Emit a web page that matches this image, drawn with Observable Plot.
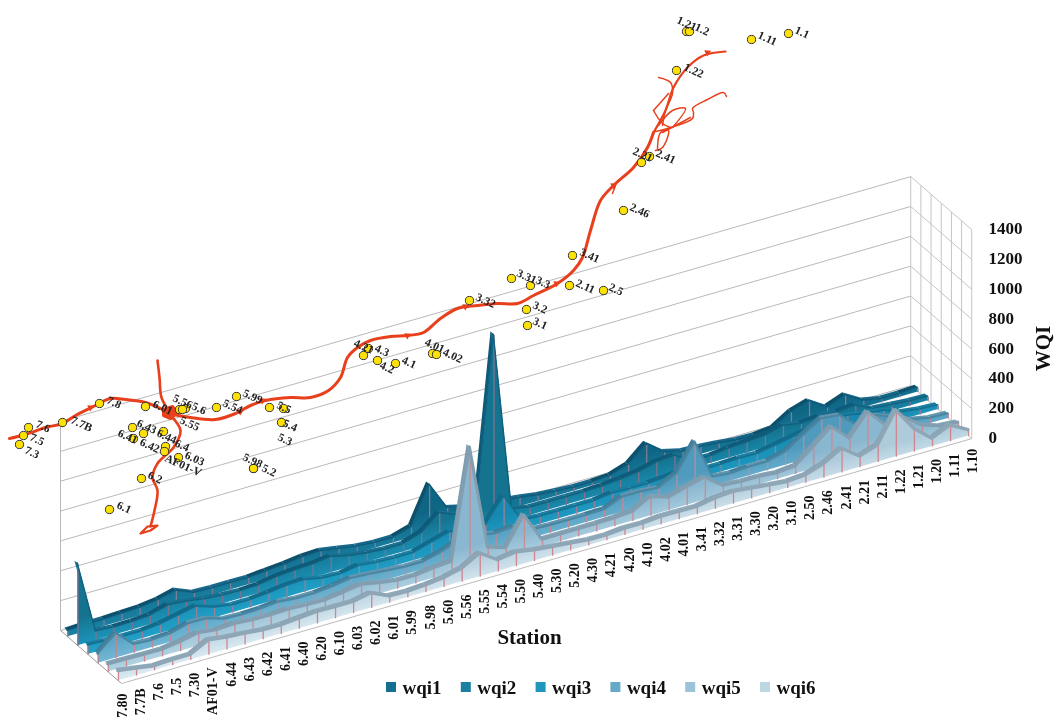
<!DOCTYPE html>
<html><head><meta charset="utf-8">
<style>html,body{margin:0;padding:0;background:#fff}svg{display:block;filter:blur(.45px)}</style>
<script src="https://cdn.jsdelivr.net/npm/d3@7"></script>
<script src="https://cdn.jsdelivr.net/npm/@observablehq/plot@0.6"></script>
</head><body><script>
const stations=["7.80","7.7B","7.6","7.5","7.30","AF01-V","6.44","6.43","6.42","6.41","6.40","6.20","6.10","6.03","6.02","6.01","5.99","5.98","5.60","5.56","5.55","5.54","5.50","5.40","5.30","5.20","4.30","4.21","4.20","4.10","4.02","4.01","3.41","3.32","3.31","3.30","3.20","3.10","2.50","2.46","2.41","2.21","2.11","1.22","1.21","1.20","1.11","1.10"];
const wqi1=[40,45,45,50,55,70,100,50,45,45,45,55,65,80,85,65,45,35,35,70,322,130,100,80,70,58,40,30,22,22,30,70,176,85,55,50,40,25,22,33,109,147,71,116,47,22,22,28];
const wqi2=[550,60,50,52,60,95,85,65,55,50,55,75,85,90,105,75,60,50,50,90,190,140,110,1280,75,52,50,50,50,55,65,80,110,120,50,48,62,70,80,110,90,100,98,107,50,40,30,28];
const wqi3=[60,55,50,50,60,85,110,70,50,50,60,75,80,55,50,70,55,50,50,85,120,110,100,256,60,50,50,50,50,65,62,60,70,80,48,48,54,51,71,94,114,136,134,110,98,51,35,28];
const wqi4=[60,165,55,48,55,89,88,50,45,48,60,48,48,60,78,70,60,50,50,80,130,120,100,110,55,50,48,48,50,100,100,90,150,330,60,48,56,56,87,165,240,228,127,158,111,60,35,30];
const wqi5=[50,48,45,43,60,85,70,76,67,65,68,62,60,75,95,70,52,50,65,75,806,100,60,246,48,48,48,48,52,60,125,85,120,150,60,50,50,40,50,145,245,131,275,150,170,80,40,30];
const wqi6=[65,46,27,33,33,96,80,71,58,57,67,77,75,74,97,42,37,45,58,87,155,74,92,71,58,46,33,31,42,40,51,49,47,69,78,65,52,40,49,89,158,71,111,310,152,51,105,38];
const seriesNames=["wqi1","wqi2","wqi3","wqi4","wqi5","wqi6"];
const seriesValues=[wqi1,wqi2,wqi3,wqi4,wqi5,wqi6];
const legendColors=["#15708f","#1a7fa3","#1f97bd","#65a9c8","#9cc3da","#bcd6e2"];
const faceFoot=["#1a82a4","#1c94ba","#22a2c9","#72b8d5","#b3d3e2","#dcebf2"];
const faceTop=["#0f6584","#14738f","#1789b0","#4f9abd","#8ab7d0","#aecbdb"];
const ridgeRise=["#0c506c","#0f5a79","#126a8a","#3f7f9c","#7d9db0","#8ba5b6"];
const ridgeFall=["#17688a","#186f90","#1a7fa2","#6596b0","#86a4b7","#90abbb"];
const ridgeLine=["#0e5a78","#10607f","#136f90","#4a86a2","#829eb0","#8ea6b5"];
const ridgeWidth=[1.4,1.4,1.6,2.2,3,3.4];
const dropColors=["#7d7f96","#80728f","#9a7f98","#c08a98","#c98a94","#cf8590"];
const wqiTicks=[0,200,400,600,800,1000,1200,1400];
const depthLines=[0,1,2,3,4,5,6];

// map overlay: station dots and their labels, in map units
const mapNames=["7.6","7.5","7.3","7.7B","7.8","6.01","5.56","5.6","5.55","5.54","5.99","5.5","5.4","5.3","6.43","6.44","6.4","6.03","AF01-V","6.41","6.42","6.2","6.1","5.98","5.2","4.21","4.3","4.2","4.1","4.01","4.02","3.32","3.31","3.3","3.2","3.1","2.11","2.5","3.41","1.21","1.2","1.11","1.1","1.22","2.21","2.41","2.46"];
const mapEast=[28,23,19,62,99,145,179,185,182,216,236,283,281,269,132,163,165,178,164,133,143,141,109,253,253,363,368,377,395,432,436,469,511,530,526,527,569,603,572,686,689,751,788,676,641,649,623];
const mapNorth=[427,435,444,422,403,406,409,408,409,407,396,408,422,407,427,431,446,457,451,438,433,478,509,468,468,355,348,360,363,353,354,300,278,285,309,325,285,290,255,31,31,39,33,70,162,156,210];
const labelEast=[36,30,25,71,107,153,173,192,180,223,243,277,283,278,137,157,175,185,165,118,140,148,117,243,262,354,375,380,402,425,443,476,517,536,533,533,576,609,580,677,695,758,795,684,633,656,630];
const labelNorth=[419,432,445,415,395,399,393,401,415,398,388,400,418,432,418,428,438,450,453,428,437,470,500,452,463,338,343,360,355,337,347,292,268,275,300,316,278,282,247,15,22,30,25,62,146,148,202];
const riverMain=[[9,438],[25,434],[45,427],[62,423],[75,415],[95,405],[110,398],[125,399],[145,402],[160,408],[170,413],[190,417],[215,419],[235,413],[250,405],[265,400],[290,397],[310,397],[328,390],[340,377],[347,357],[357,347],[370,340],[390,336],[407,335],[423,332],[440,318],[457,308],[477,305],[497,303],[517,303],[533,295],[557,283],[573,270],[582,257],[590,230],[600,200],[613,185],[633,167],[647,147],[653,132]];
const riverUpper=[[653,132],[665,110],[673,87],[687,67],[703,55],[725,51]];
const riverNorth=[[157,360],[159,377],[161,397],[170,413]];
const riverSouth=[[170,415],[180,430],[173,447],[157,463],[152,477],[157,490],[154,510],[150,526]];
const riverDelta=[[140,533],[147,526],[157,525],[150,530],[140,533]];
const riverJunction=[[163,409],[172,406],[177,412],[170,418],[163,415],[163,409]];
const creeks=[
 [[655,131],[670,127],[692,118],[693,112],[692,108],[707,99],[723,92],[726,96]],
 [[658,125],[672,110],[685,108],[672,127]],
 [[662,132],[690,117]],
 [[658,77],[670,82],[672,93],[665,110],[662,125]],
 [[653,110],[668,93]],
 [[653,110],[662,123],[670,127]],
 [[657,148],[660,132],[668,130],[662,147],[655,150]],
 [[612,193],[615,185]]
];
const riverArrows=[[62,423],[90,407],[240,411],[262,400],[407,335],[465,306],[556,283],[613,185],[707,52]];

// oblique projection of the 3-D axes
const sx=i=>60+18.09*i, sy=i=>630-5.21*i;
const px=(i,d)=>sx(i)+61*d;
const py=(i,d,v)=>sy(i)+53*d-0.1493*v;
const bandDepth=.05;
const frontOf=s=>.12+.166*s;

const serif="Liberation Serif";
const marks=[];
// walls
marks.push(Plot.link(wqiTicks,{x1:sx(0),y1:v=>py(0,0,v),x2:sx(47),y2:v=>py(47,0,v),stroke:"#b9b9b9",strokeWidth:1}));
marks.push(Plot.link(wqiTicks,{x1:sx(47),y1:v=>py(47,0,v),x2:px(47,1),y2:v=>py(47,1,v),stroke:"#c4c4c4",strokeWidth:1}));
marks.push(Plot.link(depthLines,{x1:k=>px(47,k/6),y1:k=>py(47,k/6,1400),x2:k=>px(47,k/6),y2:k=>py(47,k/6,0),stroke:"#c4c4c4",strokeWidth:1}));
marks.push(Plot.link([0],{x1:sx(0),y1:py(0,0,1400),x2:sx(0),y2:py(0,0,0),stroke:"#b9b9b9",strokeWidth:1}));
marks.push(Plot.link([0],{x1:sx(0),y1:py(0,0,0),x2:px(0,1),y2:py(0,1,0),stroke:"#9a9a9a",strokeWidth:1}));
// series ribbons, back to front
seriesValues.forEach((vals,s)=>{
  const front=frontOf(s), back=front-bandDepth;
  const segs=[];
  for(let i=0;i<47;i++){
    const color=vals[i+1]>vals[i]?ridgeRise[s]:ridgeFall[s];
    segs.push({seg:i,i,v:vals[i],color});
    segs.push({seg:i,i:i+1,v:vals[i+1],color});
  }
  marks.push(Plot.area(segs,{z:"seg",x1:r=>px(r.i,back),y1:r=>py(r.i,back,r.v),x2:r=>px(r.i,front),y2:r=>py(r.i,front,r.v),fill:"color",curve:"linear"}));
  const idx=vals.map((v,i)=>i);
  marks.push(Plot.area(idx,{x1:i=>px(i,front),y1:i=>py(i,front,vals[i]),x2:i=>px(i,front),y2:i=>py(i,front,0),fill:`url(#face${s})`,curve:"linear"}));
  marks.push(Plot.link(idx,{x1:i=>px(i,front),y1:i=>py(i,front,vals[i]),x2:i=>px(i,front),y2:i=>py(i,front,0),stroke:dropColors[s],strokeWidth:1.3}));
  marks.push(Plot.line(idx,{x:i=>px(i,front-.012),y:i=>py(i,front-.012,vals[i]),stroke:ridgeLine[s],strokeWidth:ridgeWidth[s],curve:"linear",strokeLinejoin:"round"}));
});
// front rim
marks.push(Plot.link([0],{x1:px(0,1),y1:py(0,1,0),x2:px(47,1),y2:py(47,1,0),stroke:"#bbb",strokeWidth:1}));
// station axis
marks.push(Plot.text(stations,{x:(t,i)=>px(i,1)+1,y:(t,i)=>py(i,1,0)+10,text:t=>t,rotate:-90,textAnchor:"end",lineAnchor:"middle",fontFamily:serif,fontWeight:"bold",fontSize:14,fill:"#111"}));
marks.push(Plot.text(wqiTicks,{x:988,y:v=>py(47,1,v)-1,text:v=>String(v),textAnchor:"start",lineAnchor:"middle",fontFamily:serif,fontWeight:"bold",fontSize:17,fill:"#111"}));
marks.push(Plot.text(["WQI"],{x:1043,y:348,text:t=>t,rotate:-90,textAnchor:"middle",lineAnchor:"middle",fontFamily:serif,fontWeight:"bold",fontSize:21,fill:"#111"}));
marks.push(Plot.text(["Station"],{x:529,y:637,text:t=>t,textAnchor:"middle",lineAnchor:"middle",fontFamily:serif,fontWeight:"bold",fontSize:21,fill:"#111"}));
// river
const red="#e8401c";
marks.push(Plot.line(riverMain,{x:p=>p[0],y:p=>p[1],stroke:red,strokeWidth:3,curve:"catmull-rom"}));
marks.push(Plot.line(riverUpper,{x:p=>p[0],y:p=>p[1],stroke:red,strokeWidth:2.2,curve:"catmull-rom"}));
marks.push(Plot.line(riverNorth,{x:p=>p[0],y:p=>p[1],stroke:red,strokeWidth:2.6,curve:"catmull-rom"}));
marks.push(Plot.line(riverSouth,{x:p=>p[0],y:p=>p[1],stroke:red,strokeWidth:2.6,curve:"catmull-rom"}));
marks.push(Plot.line(riverDelta,{x:p=>p[0],y:p=>p[1],stroke:red,strokeWidth:2.2,curve:"linear"}));
marks.push(Plot.line(riverJunction,{x:p=>p[0],y:p=>p[1],fill:red,stroke:red,strokeWidth:3,curve:"linear"}));
creeks.forEach(c=>marks.push(Plot.line(c,{x:p=>p[0],y:p=>p[1],stroke:red,strokeWidth:1.5,curve:"catmull-rom"})));
marks.push(Plot.dot(riverArrows,{x:p=>p[0],y:p=>p[1],symbol:"triangle",r:2.6,fill:red,rotate:65}));
// map stations
marks.push(Plot.dot(mapNames,{x:(n,i)=>mapEast[i],y:(n,i)=>mapNorth[i],r:4.1,fill:"#ffe205",stroke:"#333",strokeWidth:1}));
marks.push(Plot.text(mapNames,{x:(n,i)=>labelEast[i],y:(n,i)=>labelNorth[i]+4,text:n=>n,rotate:24,textAnchor:"start",lineAnchor:"middle",fontFamily:serif,fontWeight:"bold",fontSize:11.5,fill:"#222"}));
// legend
const swatchX=k=>386+74.8*k;
marks.push(Plot.rect(seriesNames,{x1:(n,k)=>swatchX(k),x2:(n,k)=>swatchX(k)+10,y1:682,y2:692,fill:(n,k)=>legendColors[k]}));
marks.push(Plot.text(seriesNames,{x:(n,k)=>swatchX(k)+16,y:687,text:n=>n,textAnchor:"start",lineAnchor:"middle",fontFamily:serif,fontWeight:"bold",fontSize:19,fill:"#111"}));

const chart=Plot.plot({
  width:1056,height:717,margin:0,
  x:{domain:[0,1056],range:[0,1056],axis:null},
  y:{domain:[0,717],range:[0,717],axis:null},
  color:{type:"identity"},
  style:{background:"#fff"},
  marks
});
// shading of the front faces: paler toward the foot of each ribbon
const defs=d3.select(chart).insert("defs",":first-child");
seriesValues.forEach((v,s)=>{
  const f=frontOf(s), x0=px(0,f), y0=py(0,f,0);
  const g=defs.append("linearGradient").attr("id",`face${s}`).attr("gradientUnits","userSpaceOnUse")
    .attr("x1",x0).attr("y1",y0).attr("x2",x0-7).attr("y2",y0-26);
  g.append("stop").attr("offset",0).attr("stop-color",faceFoot[s]);
  g.append("stop").attr("offset",1).attr("stop-color",faceTop[s]);
});
document.body.appendChild(chart);
</script></body></html>
